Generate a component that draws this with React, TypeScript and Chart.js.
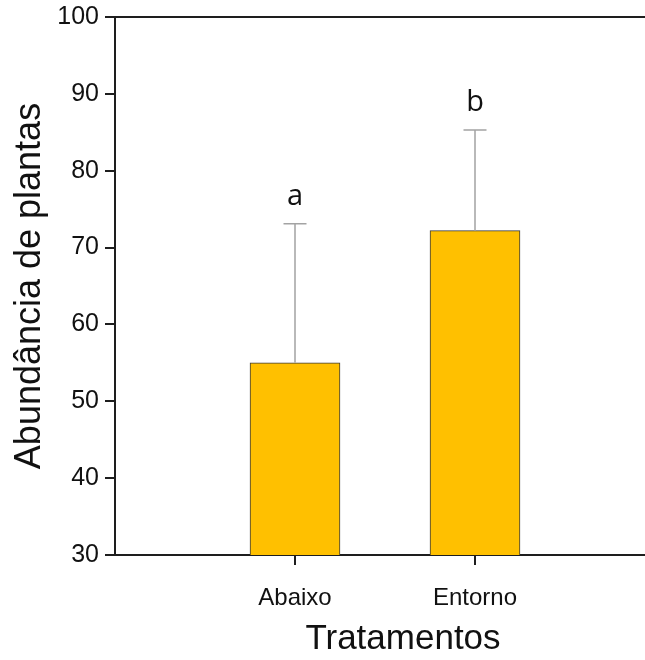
import React, { useEffect, useRef } from "react";
import { Chart, registerables } from "chart.js";

Chart.register(...registerables);

// Treatments, mean plant abundance, upper error limits and significance letters
const categories = ["Abaixo", "Entorno"];
const means = [55.0, 72.2];
const upperLimits = [73.1, 85.3];
const groupLetters = ["a", "b"];

const yTicks = [30, 40, 50, 60, 70, 80, 90, 100];

const AXIS_COLOR = "#1e1e1e";
const TEXT_COLOR = "#111111";
const SANS = '"Liberation Sans", Arial, sans-serif';

// Draws the upper error whiskers and the group letters above each bar
const errorBarPlugin = {
  id: "errorBars",
  afterDatasetsDraw(chart: any) {
    const { ctx, scales } = chart;
    const meta = chart.getDatasetMeta(0);
    const yScale = scales.y;
    ctx.save();
    meta.data.forEach((bar: any, i: number) => {
      const x = bar.x;
      const top = bar.y;
      const capY = yScale.getPixelForValue(upperLimits[i]);
      ctx.strokeStyle = "#a3a3a3";
      ctx.lineWidth = 1.5;
      ctx.beginPath();
      ctx.moveTo(x, top);
      ctx.lineTo(x, capY);
      ctx.moveTo(x - 11.5, capY);
      ctx.lineTo(x + 11.5, capY);
      ctx.stroke();

      ctx.fillStyle = TEXT_COLOR;
      ctx.font = '29px "Open Sans", "Noto Sans", sans-serif';
      ctx.textAlign = "center";
      ctx.textBaseline = "alphabetic";
      ctx.fillText(groupLetters[i], x, capY - 19);
    });
    ctx.restore();
  },
};

// Top frame line of the plot area
const topLinePlugin = {
  id: "topLine",
  afterDraw(chart: any) {
    const { ctx, chartArea } = chart;
    ctx.save();
    ctx.strokeStyle = AXIS_COLOR;
    ctx.lineWidth = 2;
    ctx.beginPath();
    ctx.moveTo(chartArea.left - 10, chartArea.top);
    ctx.lineTo(chartArea.right, chartArea.top);
    ctx.stroke();
    ctx.restore();
  },
};

export default function App() {
  const ref = useRef<HTMLCanvasElement>(null);

  useEffect(() => {
    const canvas = ref.current;
    if (!canvas) return;
    const chart = new Chart(canvas, {
      type: "bar",
      data: {
        datasets: [
          {
            data: categories.map((_, i) => ({ x: i + 1, y: means[i] })),
            backgroundColor: "#FFC000",
            borderColor: "#3a3a3a",
            borderWidth: 1,
            borderSkipped: "start",
            barThickness: 90,
          },
        ],
      },
      options: {
        animation: false,
        responsive: false,
        devicePixelRatio: 1,
        layout: { padding: { top: 17, left: 0, right: 0, bottom: 0 } },
        plugins: {
          legend: { display: false },
          tooltip: { enabled: false },
        },
        scales: {
          x: {
            type: "linear",
            min: 0,
            max: 3.2,
            offset: false,
            afterBuildTicks: (scale: any) => {
              scale.ticks = categories.map((_, i) => ({ value: i + 1 }));
            },
            afterFit: (scale: any) => {
              scale.height = 105;
              scale.paddingLeft = 0;
              scale.paddingRight = 0;
            },
            ticks: {
              autoSkip: false,
              maxRotation: 0,
              padding: 19,
              color: TEXT_COLOR,
              font: { family: SANS, size: 24 },
              callback: (v: any) => categories[Number(v) - 1] ?? "",
            },
            grid: {
              offset: false,
              drawOnChartArea: false,
              drawTicks: true,
              tickLength: 10,
              color: AXIS_COLOR,
              lineWidth: 2,
            },
            border: { display: true, color: AXIS_COLOR, width: 2 },
            title: {
              display: true,
              text: "Tratamentos",
              color: TEXT_COLOR,
              font: { family: SANS, size: 35 },
              padding: { top: 0, bottom: 0 },
            },
          },
          y: {
            min: 30,
            max: 100,
            afterBuildTicks: (scale: any) => {
              scale.ticks = yTicks.map((v) => ({ value: v }));
            },
            afterFit: (scale: any) => {
              scale.width = 115;
              scale.paddingTop = 0;
              scale.paddingBottom = 0;
            },
            ticks: {
              padding: 6,
              color: TEXT_COLOR,
              font: { family: SANS, size: 25 },
            },
            grid: {
              drawOnChartArea: false,
              drawTicks: true,
              tickLength: 10,
              color: AXIS_COLOR,
              lineWidth: 2,
            },
            border: { display: true, color: AXIS_COLOR, width: 2 },
            title: {
              display: true,
              text: "Abundância de plantas",
              color: TEXT_COLOR,
              font: { family: SANS, size: 36 },
              padding: { top: 8, bottom: 0 },
            },
          },
        },
      },
      plugins: [errorBarPlugin, topLinePlugin],
    });
    return () => chart.destroy();
  }, []);

  return (
    <div
      style={{
        position: "absolute",
        left: 0,
        top: 0,
        width: 645,
        height: 660,
        overflow: "hidden",
        background: "#ffffff",
      }}
    >
      <canvas
        ref={ref}
        width={691}
        height={660}
        style={{ display: "block", width: 691, height: 660 }}
      />
    </div>
  );
}
